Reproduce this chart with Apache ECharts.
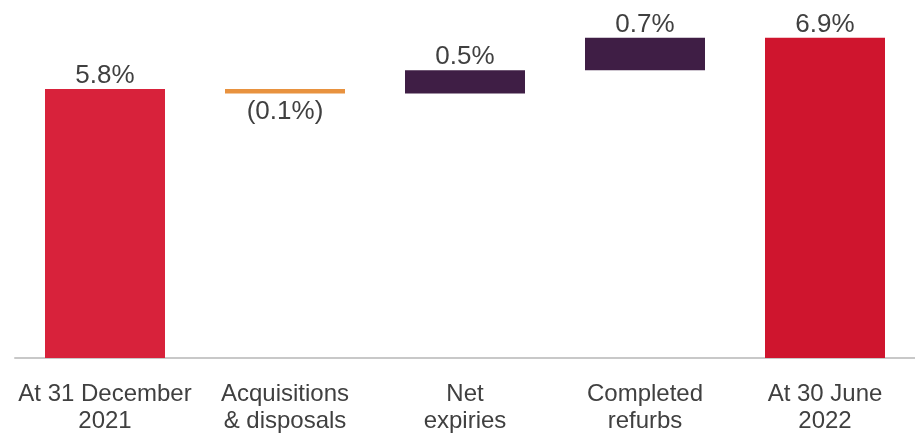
<!DOCTYPE html>
<html>
<head>
<meta charset="utf-8">
<script src="https://cdn.jsdelivr.net/npm/echarts@6/dist/echarts.min.js"></script>
<style>
  html, body { margin: 0; padding: 0; background: #ffffff; }
  #chart { width: 915px; height: 435px; }
</style>
</head>
<body>
<div id="chart"></div>
<script>
// Vacancy bridge: opening rate, movements, closing rate (in %)
const categories = ['At 31 December\n2021', 'Acquisitions\n& disposals', 'Net\nexpiries', 'Completed\nrefurbs', 'At 30 June\n2022'];
const openingValue = 5.8;
const movements = [-0.1, 0.5, 0.7];
const closingValue = 6.9;

const colOpening = '#d8223b';
const colClosing = '#cf152e';
const colNegative = '#e8923f';
const colPositive = '#3f1e45';
const textColor = '#404040';
const fontFamily = '"Liberation Sans", Arial, Helvetica, sans-serif';

// Build invisible base + visible segment for each column
const baseData = [];
const barData = [];
baseData.push(0);
barData.push({ value: openingValue, raw: openingValue, itemStyle: { color: colOpening } });
let running = openingValue;
movements.forEach(function (m) {
  const next = running + m;
  const lo = Math.min(running, next);
  baseData.push(+lo.toFixed(4));
  barData.push({
    value: +Math.abs(m).toFixed(4),
    raw: m,
    itemStyle: { color: m < 0 ? colNegative : colPositive },
    label: m < 0 ? { position: 'bottom', distance: 5 } : { position: 'top' }
  });
  running = next;
});
baseData.push(0);
barData.push({ value: closingValue, raw: closingValue, itemStyle: { color: colClosing } });

function fmt(v) {
  return v < 0 ? '(' + Math.abs(v).toFixed(1) + '%)' : v.toFixed(1) + '%';
}

const chart = echarts.init(document.getElementById('chart'));
chart.setOption({
  animation: false,
  grid: { left: 15, right: 0, top: 10, bottom: 75 },
  xAxis: {
    type: 'category',
    data: categories,
    axisLine: { lineStyle: { color: '#c8c8c8', width: 2 } },
    axisTick: { show: false },
    axisLabel: {
      color: textColor,
      fontSize: 24,
      fontFamily: fontFamily,
      lineHeight: 27,
      margin: 23,
      interval: 0
    }
  },
  yAxis: {
    type: 'value',
    min: 0,
    max: 7.5,
    show: false,
    splitLine: { show: false }
  },
  series: [
    {
      type: 'bar',
      stack: 'bridge',
      data: baseData,
      barWidth: 120,
      itemStyle: { color: 'transparent' },
      emphasis: { disabled: true },
      silent: true
    },
    {
      type: 'bar',
      stack: 'bridge',
      data: barData,
      barWidth: 120,
      label: {
        show: true,
        position: 'top',
        distance: 0,
        color: textColor,
        fontSize: 26,
        fontFamily: fontFamily,
        formatter: function (p) { return fmt(p.data.raw); }
      }
    }
  ]
});
</script>
</body>
</html>
